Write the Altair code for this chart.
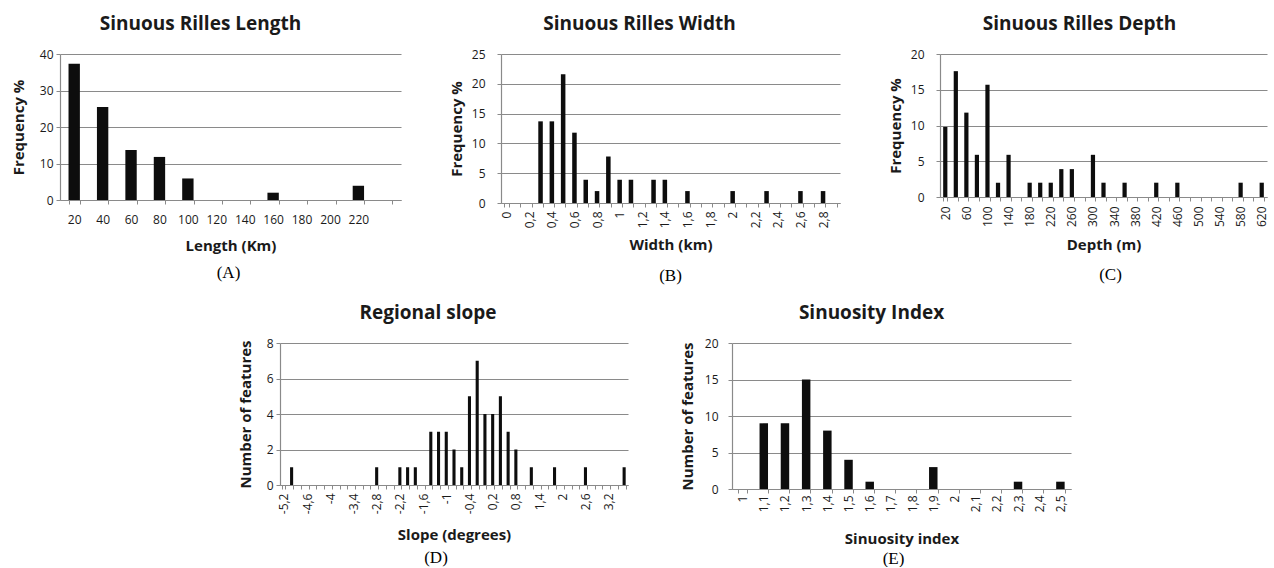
import json
import altair as alt
import pandas as pd

FONT = "Open Sans"
SERIF = "Liberation Serif"
GRAY = "#8a8a8a"
INK = "#1a1a1a"

# ---------------- (A) Length ----------------
len_cats = ["20", "40", "60", "80", "100", "120", "140", "160", "180", "200", "220", "240"]
len_vals = [37.3, 25.5, 13.7, 11.8, 5.9, 0, 0, 2.0, 0, 0, 3.9, 0]
len_shown = ["20", "40", "60", "80", "100", "120", "140", "160", "180", "200", "220"]

# ---------------- (B) Width ----------------
wid_cats = ["0", "0,1", "0,2", "0,3", "0,4", "0,5", "0,6", "0,7", "0,8", "0,9",
            "1", "1,1", "1,2", "1,3", "1,4", "1,5", "1,6", "1,7", "1,8", "1,9",
            "2", "2,1", "2,2", "2,3", "2,4", "2,5", "2,6", "2,7", "2,8", "2,9"]
wid_vals = [0, 0, 0, 13.7, 13.7, 21.6, 11.8, 3.9, 2.0, 7.8,
            3.9, 3.9, 0, 3.9, 3.9, 0, 2.0, 0, 0, 0,
            2.0, 0, 0, 2.0, 0, 0, 2.0, 0, 2.0, 0]
wid_shown = ["0", "0,2", "0,4", "0,6", "0,8", "1", "1,2", "1,4", "1,6", "1,8",
             "2", "2,2", "2,4", "2,6", "2,8"]

# ---------------- (C) Depth ----------------
dep_cats = ["20", "40", "60", "80", "100", "120", "140", "160", "180", "200", "220",
            "240", "260", "280", "300", "320", "340", "360", "380", "400", "420",
            "440", "460", "480", "500", "520", "540", "560", "580", "600", "620"]
dep_vals = [9.8, 17.6, 11.8, 5.9, 15.7, 2.0, 5.9, 0, 2.0, 2.0, 2.0,
            3.9, 3.9, 0, 5.9, 2.0, 0, 2.0, 0, 0, 2.0,
            0, 2.0, 0, 0, 0, 0, 0, 2.0, 0, 2.0]
dep_shown = ["20", "60", "100", "140", "180", "220", "260", "300", "340", "380",
             "420", "460", "500", "540", "580", "620"]

# ---------------- (D) Regional slope ----------------
slo_cats = ["-5,2", "-5", "-4,8", "-4,6", "-4,4", "-4,2", "-4", "-3,8", "-3,6", "-3,4",
            "-3,2", "-3", "-2,8", "-2,6", "-2,4", "-2,2", "-2", "-1,8", "-1,6", "-1,4",
            "-1,2", "-1", "-0,8", "-0,6", "-0,4", "-0,2", "0", "0,2", "0,4", "0,6",
            "0,8", "1", "1,2", "1,4", "1,6", "1,8", "2", "2,2", "2,4", "2,6",
            "2,8", "3", "3,2", "3,4", "3,6"]
slo_vals = [0, 1, 0, 0, 0, 0, 0, 0, 0, 0,
            0, 0, 1, 0, 0, 1, 1, 1, 0, 3,
            3, 3, 2, 1, 5, 7, 4, 4, 5, 3,
            2, 0, 1, 0, 0, 1, 0, 0, 0, 1,
            0, 0, 0, 0, 1]
slo_shown = ["-5,2", "-4,6", "-4", "-3,4", "-2,8", "-2,2", "-1,6", "-1", "-0,4", "0,2",
             "0,8", "1,4", "2", "2,6", "3,2"]

# ---------------- (E) Sinuosity index ----------------
sin_cats = ["1", "1,1", "1,2", "1,3", "1,4", "1,5", "1,6", "1,7", "1,8", "1,9",
            "2", "2,1", "2,2", "2,3", "2,4", "2,5"]
sin_vals = [0, 9, 9, 15, 8, 4, 1, 0, 0, 3, 0, 0, 0, 1, 0, 1]
sin_shown = sin_cats


def panel(cats, vals, shown, title, xtitle, ytitle, ymax, ystep, w, h, cap,
          angle, title_dx, x_lpad, x_tpad, y_lpad, y_tpad, cap_dx, cap_dy):
    df = pd.DataFrame({"cat": cats, "val": vals})
    label_expr = "indexof(%s, datum.label) >= 0 ? datum.label : ''" % json.dumps(shown)
    yvals = list(range(0, ymax + 1, ystep))
    bars = alt.Chart(df).mark_bar(color="#0d0d0d").encode(
        x=alt.X("cat:N", sort=cats,
                scale=alt.Scale(paddingInner=0.6, paddingOuter=0.3),
                axis=alt.Axis(title=xtitle, labelAngle=angle, labelExpr=label_expr,
                              labelOverlap=False, tickBand="extent", tickSize=4,
                              labelPadding=x_lpad, titlePadding=x_tpad,
                              domainColor=GRAY, tickColor=GRAY, domainWidth=1.2,
                              labelFont=FONT, labelFontSize=12, labelColor=INK,
                              titleFont=FONT, titleFontSize=15, titleFontWeight="bold",
                              titleColor=INK)),
        y=alt.Y("val:Q", scale=alt.Scale(domain=[0, ymax], nice=False),
                axis=alt.Axis(title=ytitle, values=yvals, grid=True, gridColor=GRAY,
                              gridWidth=1.2, tickSize=4, tickColor=GRAY,
                              domainColor=GRAY, domainWidth=1.2,
                              labelPadding=y_lpad, titlePadding=y_tpad,
                              labelFont=FONT, labelFontSize=12, labelColor=INK,
                              titleFont=FONT, titleFontSize=15, titleFontWeight="bold",
                              titleColor=INK)),
    )
    capdf = pd.DataFrame({"t": [cap]})
    caption = alt.Chart(capdf).mark_text(font=SERIF, fontSize=17, color="black",
                                         baseline="middle").encode(
        text="t:N",
        x=alt.value(w / 2 + cap_dx),
        y=alt.value(h + cap_dy),
    )
    return alt.layer(bars, caption).properties(
        width=w, height=h,
        title=alt.TitleParams(text=title, font=FONT, fontSize=19, fontWeight="bold",
                              color=INK, anchor="middle", dx=title_dx, offset=14),
    )


pA = panel(len_cats, len_vals, len_shown, "Sinuous Rilles Length", "Length (Km)",
           "Frequency %", 40, 10, 341, 146, "(A)", 0, -30, 10, 13, 3, 13, -2, 73)
pB = panel(wid_cats, wid_vals, wid_shown, "Sinuous Rilles Width", "Width (km)",
           "Frequency %", 25, 5, 339, 149, "(B)", 270, -31, 4, 10, 12, 7, 0, 73)
pC = panel(dep_cats, dep_vals, dep_shown, "Sinuous Rilles Depth", "Depth (m)",
           "Frequency %", 20, 5, 327, 143, "(C)", 270, -24, 5, 11, 12, 7, 7, 78)
pD = panel(slo_cats, slo_vals, slo_shown, "Regional slope", "Slope (degrees)",
           "Number of features", 8, 2, 348, 142, "(D)", 270, -26, 4, 14, 3, 13, -18, 73)
pE = panel(sin_cats, sin_vals, sin_shown, "Sinuosity Index", "Sinuosity index",
           "Number of features", 20, 5, 339, 146, "(E)", 270, -30, 2, 20, 10, 9, -8, 70)

spacer = alt.Chart(pd.DataFrame({"a": [0]})).mark_point(opacity=0).encode(
    x=alt.value(0), y=alt.value(0)
).properties(width=116, height=10)

row1 = alt.hconcat(pA, pB, pC, spacing=100, bounds="flush")
row2 = alt.hconcat(spacer, pD, pE, spacing=104, bounds="flush")

chart = alt.vconcat(row1, row2, spacing=289, bounds="flush").properties(
    padding={"left": 11, "top": 15, "right": 2, "bottom": 0},
    background="white",
).configure_view(stroke=None)

chart.save("out.html", embed_options={"renderer": "svg", "actions": False})
